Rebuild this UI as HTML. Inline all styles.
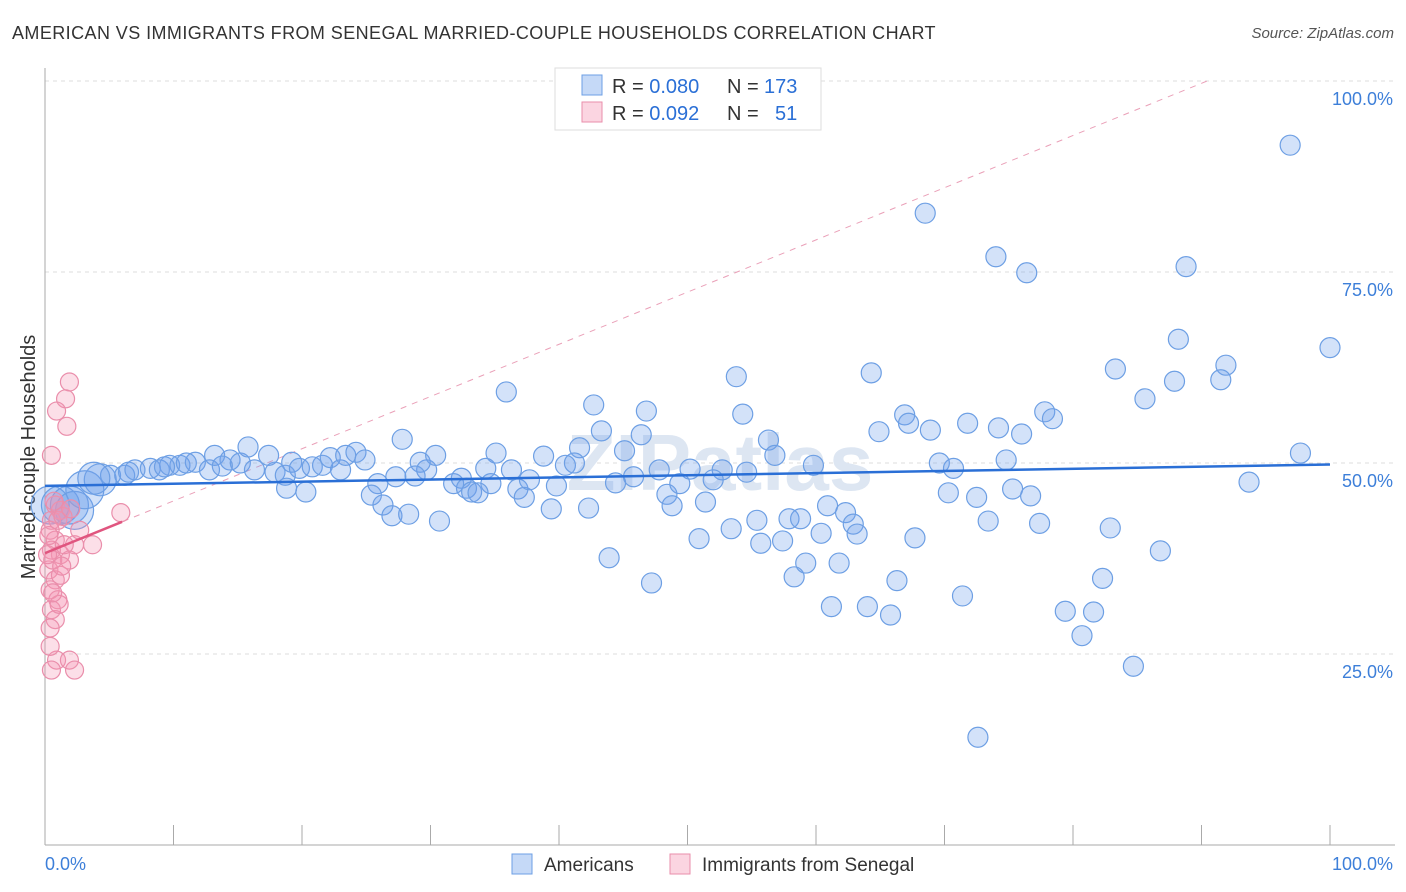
<!DOCTYPE html>
<html><head><meta charset="utf-8"><style>
body{margin:0;background:#fff;font-family:"Liberation Sans",sans-serif;}
#wrap{position:relative;width:1406px;height:892px;}
.t{position:absolute;white-space:nowrap;}
</style></head><body>
<div id="wrap">
<div class="t" style="left:12px;top:23px;font-size:18px;letter-spacing:0.42px;color:#333">AMERICAN VS IMMIGRANTS FROM SENEGAL MARRIED-COUPLE HOUSEHOLDS CORRELATION CHART</div>
<div class="t" style="right:12px;top:25px;font-size:15px;color:#555;font-style:italic">Source: ZipAtlas.com</div>
<svg id="svg" width="1406" height="892" style="position:absolute;left:0;top:0"></svg>
</div>
<script>
const blueX=[96.9,68.5,74.0,76.4,88.8,88.2,100,91.9,83.3,91.5,87.9,64.3,53.8,35.9,85.6,42.7,46.8,54.3,66.9,77.8,78.4,67.2,71.8,74.2,68.9,76.0,64.9,43.3,46.4,27.8,56.3,45.1,41.6,35.1,38.8,56.8,97.7,74.8,69.6,70.7,59.8,54.6,52.7,50.2,47.8,45.8,44.4,40.5,41.2,36.3,34.3,34.7,32.4,31.8,29.7,29.2,30.4,28.8,27.3,25.9,25.4,26.3,27.0,28.3,30.7,32.8,33.2,33.7,36.8,37.3,37.7,39.4,39.8,42.3,43.9,47.2,48.4,48.8,49.4,51.4,52.0,50.9,53.4,55.4,55.7,57.4,57.9,58.8,58.3,59.2,60.4,60.9,61.8,62.3,62.9,63.2,61.2,64.0,65.8,66.3,67.7,70.3,72.5,73.4,71.4,72.6,75.3,76.7,77.4,79.4,80.7,81.6,82.3,82.9,84.7,86.8,93.7,
0.4,1.2,1.9,2.3,3.1,4.3,5.1,6.2,7.0,8.2,8.9,9.7,10.5,11.7,12.8,13.2,14.4,15.2,15.8,16.3,17.4,17.9,18.7,19.2,19.8,20.3,20.8,21.6,22.2,23.0,23.4,24.2,24.9,18.8,3.8,6.5,9.3,11.0,13.8];
const blueY=[91.6,82.7,77.0,74.9,75.7,66.2,65.1,62.8,62.3,60.9,60.7,61.8,61.3,59.3,58.4,57.6,56.8,56.4,56.3,56.7,55.8,55.2,55.2,54.6,54.3,53.8,54.1,54.2,53.7,53.1,53.0,51.6,52.0,51.3,50.9,51.0,51.3,50.4,50.0,49.3,49.7,48.8,49.1,49.2,49.1,48.2,47.4,49.7,50.0,49.1,49.3,47.3,48.0,47.3,49.1,50.1,51.0,48.3,48.2,47.3,45.8,44.5,43.1,43.3,42.4,46.7,46.2,46.1,46.6,45.5,47.8,44.0,47.0,44.1,37.6,34.3,45.9,44.4,47.3,44.9,47.8,40.1,41.4,42.5,39.5,39.8,42.7,42.7,35.1,36.9,40.8,44.4,36.9,43.5,42.0,40.7,31.2,31.2,30.1,34.6,40.2,46.1,45.5,42.4,32.6,14.1,46.6,45.7,42.1,30.6,27.4,30.5,34.9,41.5,23.4,38.5,47.5,
44.5,44.5,44.5,43.8,46.5,47.8,48.4,48.4,49.1,49.3,49.1,49.7,49.7,50.1,49.1,51.0,50.4,50.0,52.1,49.1,51.0,48.8,48.4,50.1,49.3,46.2,49.5,49.7,50.7,49.1,51.0,51.4,50.4,46.7,48.0,48.8,49.5,50.0,49.6];
const pinkX=[1.9,1.6,0.9,1.7,0.5,0.8,1.2,0.5,0.4,0.8,0.5,1.2,1.9,0.3,0.8,0.4,1.0,0.5,0.8,0.4,1.0,2.3,2.7,5.9,3.7,0.9,1.9,0.5,2.3,1.2,1.5,0.6,0.3,1.1,0.7,1.4,0.2,0.6,1.3,2.0,0.4];
const pinkY=[60.6,58.4,56.8,54.8,51.0,44.5,43.8,42.5,41.2,39.9,38.6,38.0,37.3,36.0,34.7,33.4,32.1,30.8,29.5,28.4,42.5,39.3,41.2,43.5,39.3,24.2,24.2,22.9,22.9,35.3,39.3,37.3,40.5,31.5,45.0,43.0,38.0,33.0,36.5,44.0,26.0];
const yTicks=[25,50,75,100];
const blueTrend=[47.0,49.8];
const pinkTrend=[38.2,42.3];
const ns="http://www.w3.org/2000/svg";
const svg=document.getElementById('svg');
const X0=45,X1=1330,Y0=845,Y100=81;
const xs=v=>X0+(X1-X0)*v/100;
const ys=v=>Y0-(Y0-Y100)*v/100;
function mk(tag,at){const e=document.createElementNS(ns,tag);for(const k in at)e.setAttribute(k,at[k]);svg.appendChild(e);return e;}
yTicks.forEach(t=>{const g=mk('line',{x1:X0,x2:1395,y1:ys(t),y2:ys(t),stroke:'#ddd','stroke-dasharray':'4,4'});


const tx=mk('text',{x:1393,y:ys(t)+24,'text-anchor':'end','font-size':18,fill:'#3d7fd9','font-family':'Liberation Sans'});tx.textContent=t.toFixed(1)+'%';

});
let a=mk('line',{x1:X0,x2:X0,y1:68,y2:Y0,stroke:'#aaa'});
a=mk('line',{x1:X0,x2:1395,y1:Y0,y2:Y0,stroke:'#aaa'});
for(let i=0;i<=10;i++){const l=mk('line',{x1:xs(i*10),x2:xs(i*10),y1:Y0,y2:Y0-20,stroke:'#aaa'});

}
let t=mk('text',{x:45,y:870,'font-size':18,fill:'#3d7fd9','font-family':'Liberation Sans'});t.textContent='0.0%';
t=mk('text',{x:1393,y:870,'text-anchor':'end','font-size':18,fill:'#3d7fd9','font-family':'Liberation Sans'});t.textContent='100.0%';
t=mk('text',{x:35,y:457,'text-anchor':'middle','font-size':20,fill:'#333','font-family':'Liberation Sans',transform:'rotate(-90 35 457)'});t.textContent='Married-couple Households';
t=mk('text',{x:720,y:490,'text-anchor':'middle','font-size':80,fill:'#dde6f2','font-family':'Liberation Sans','font-weight':'bold'});t.textContent='ZIPatlas';
const pSlope=(pinkTrend[1]-pinkTrend[0])/6;
const xEnd=(100-pinkTrend[0])/pSlope;
a=mk('line',{x1:xs(0),y1:ys(pinkTrend[0]),x2:xs(xEnd),y2:ys(100),stroke:'#eaa0b8','stroke-dasharray':'6,6','stroke-width':1});

blueX.forEach((x,i)=>{let r=10;if(x<5)r=16;if(x<4&&blueY[i]<47)r=19;
const c=mk('circle',{cx:xs(x),cy:ys(blueY[i]),r:r,fill:'rgba(110,160,235,0.3)',stroke:'#6d9fe4','stroke-width':1.2});

});
pinkX.forEach((x,i)=>{const c=mk('circle',{cx:xs(x),cy:ys(pinkY[i]),r:9,fill:'rgba(245,150,180,0.3)',stroke:'#ea8eab','stroke-width':1.2});

});
a=mk('line',{x1:xs(0),y1:ys(blueTrend[0]),x2:xs(100),y2:ys(blueTrend[1]),stroke:'#2a6fd6','stroke-width':2.5});

a=mk('line',{x1:xs(0),y1:ys(pinkTrend[0]),x2:xs(6),y2:ys(pinkTrend[1]),stroke:'#e0557f','stroke-width':2.5});

a=mk('rect',{x:555,y:68,width:266,height:62,fill:'#fff',stroke:'#ddd'});
[[0,'rgba(110,160,235,0.4)','#6d9fe4','0.080','173'],[1,'rgba(245,150,180,0.4)','#ea8eab','0.092','51']].forEach(d=>{const y=75+d[0]*27;
let r=mk('rect',{x:582,y:y,width:20,height:20,fill:d[1],stroke:d[2]});
let tx=mk('text',{x:612,y:y+18,'font-size':20,fill:'#333','font-family':'Liberation Sans'});tx.innerHTML='R = <tspan fill="#2a6fd6">'+d[3]+'</tspan>';
tx=mk('text',{x:727,y:y+18,'font-size':20,fill:'#333','font-family':'Liberation Sans'});tx.innerHTML='N = <tspan fill="#2a6fd6" x="'+(d[4].length==3?764:775)+'">'+d[4]+'</tspan>';});
[[512,'rgba(110,160,235,0.4)','#6d9fe4','Americans'],[670,'rgba(245,150,180,0.4)','#ea8eab','Immigrants from Senegal']].forEach(d=>{
let r=mk('rect',{x:d[0],y:854,width:20,height:20,fill:d[1],stroke:d[2]});
let tx=mk('text',{x:d[0]+32,y:871,'font-size':19,fill:'#333','font-family':'Liberation Sans'});tx.textContent=d[3];});
</script>
</body></html>
